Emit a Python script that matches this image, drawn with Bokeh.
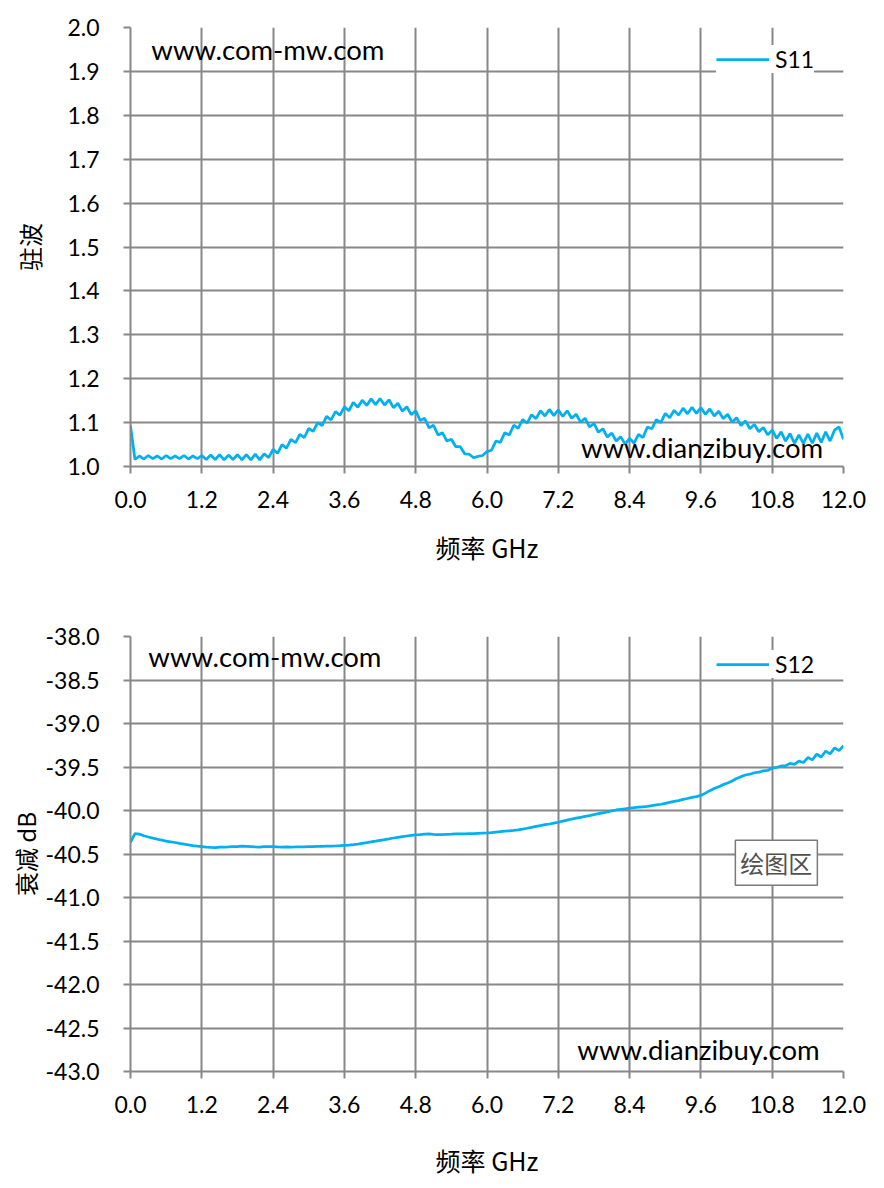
import numpy as np
from bokeh.plotting import figure
from bokeh.models import (Range1d, FixedTicker, NumeralTickFormatter, Legend,
                          LegendItem, Label)
from bokeh.layouts import column
from bokeh.embed import file_html
from bokeh.resources import INLINE

# ---------------- data ----------------
# frequency sweep, 0 .. 12 GHz, 161 points (0.075 GHz step)
freq_ghz = np.linspace(0.0, 12.0, 161)

s11_vswr = [
    1.093, 1.016, 1.024, 1.017, 1.025, 1.018, 1.024, 1.017, 1.025, 1.018,
    1.024, 1.018, 1.025, 1.017, 1.024, 1.018, 1.025, 1.016, 1.026, 1.016,
    1.027, 1.015, 1.026, 1.016, 1.027, 1.015, 1.027, 1.015, 1.028, 1.015,
    1.029, 1.020, 1.039, 1.030, 1.050, 1.042, 1.062, 1.054, 1.073, 1.066,
    1.087, 1.080, 1.100, 1.093, 1.114, 1.106, 1.125, 1.117, 1.136, 1.127,
    1.146, 1.135, 1.151, 1.139, 1.154, 1.141, 1.155, 1.140, 1.152, 1.134,
    1.144, 1.126, 1.136, 1.118, 1.127, 1.105, 1.110, 1.088, 1.094, 1.072,
    1.077, 1.058, 1.062, 1.045, 1.045, 1.029, 1.028, 1.020, 1.023, 1.025,
    1.034, 1.037, 1.058, 1.055, 1.077, 1.072, 1.094, 1.087, 1.107, 1.099,
    1.118, 1.109, 1.127, 1.115, 1.130, 1.116, 1.129, 1.114, 1.127, 1.110,
    1.119, 1.101, 1.110, 1.090, 1.098, 1.078, 1.086, 1.067, 1.076, 1.058,
    1.068, 1.051, 1.064, 1.053, 1.073, 1.066, 1.090, 1.086, 1.107, 1.100,
    1.121, 1.111, 1.128, 1.117, 1.133, 1.120, 1.135, 1.121, 1.134, 1.119,
    1.131, 1.115, 1.126, 1.109, 1.119, 1.101, 1.111, 1.093, 1.104, 1.086,
    1.096, 1.079, 1.089, 1.072, 1.083, 1.064, 1.079, 1.058, 1.075, 1.053,
    1.072, 1.052, 1.074, 1.053, 1.076, 1.055, 1.079, 1.058, 1.083, 1.090,
    1.062,
]

s12_db = [
    -40.365, -40.265, -40.272, -40.290, -40.305, -40.318, -40.330, -40.340, -40.352, -40.360,
    -40.368, -40.378, -40.386, -40.395, -40.403, -40.410, -40.415, -40.422, -40.425, -40.427,
    -40.422, -40.420, -40.419, -40.416, -40.414, -40.410, -40.412, -40.415, -40.418, -40.420,
    -40.416, -40.414, -40.415, -40.419, -40.421, -40.418, -40.420, -40.419, -40.417, -40.418,
    -40.415, -40.416, -40.413, -40.412, -40.410, -40.409, -40.407, -40.404, -40.400, -40.397,
    -40.392, -40.386, -40.378, -40.370, -40.360, -40.352, -40.343, -40.335, -40.326, -40.316,
    -40.308, -40.300, -40.293, -40.286, -40.280, -40.276, -40.271, -40.270, -40.274, -40.276,
    -40.276, -40.273, -40.272, -40.270, -40.269, -40.268, -40.266, -40.265, -40.262, -40.260,
    -40.258, -40.254, -40.248, -40.242, -40.238, -40.233, -40.228, -40.222, -40.214, -40.204,
    -40.193, -40.183, -40.173, -40.163, -40.155, -40.145, -40.135, -40.122, -40.110, -40.098,
    -40.088, -40.078, -40.068, -40.058, -40.047, -40.037, -40.027, -40.017, -40.005, -39.994,
    -39.987, -39.980, -39.973, -39.968, -39.962, -39.957, -39.953, -39.945, -39.936, -39.928,
    -39.918, -39.906, -39.895, -39.886, -39.873, -39.862, -39.850, -39.840, -39.827, -39.800,
    -39.772, -39.748, -39.727, -39.703, -39.684, -39.660, -39.632, -39.611, -39.592, -39.583,
    -39.566, -39.560, -39.545, -39.540, -39.512, -39.505, -39.488, -39.486, -39.458, -39.470,
    -39.432, -39.448, -39.392, -39.417, -39.353, -39.385, -39.317, -39.349, -39.280, -39.312,
    -39.255,
]

x_ticks = [0.0, 1.2, 2.4, 3.6, 4.8, 6.0, 7.2, 8.4, 9.6, 10.8, 12.0]
s11_ticks = [1.0, 1.1, 1.2, 1.3, 1.4, 1.5, 1.6, 1.7, 1.8, 1.9, 2.0]
s12_ticks = [-43.0, -42.5, -42.0, -41.5, -41.0, -40.5, -40.0, -39.5, -39.0, -38.5, -38.0]

x_title = "频率 GHz"
s11_title = "驻波"
s12_title = "衰减 dB"
s11_name = "S11"
s12_name = "S12"
site_a = "www.com-mw.com"
site_b = "www.dianzibuy.com"
tip_text = "绘图区"

# ---------------- style ----------------
GRID = "#878787"
LINE = "#00B0F0"
TICK_FONT = "Lato"
CJK_FONT = "Noto Sans CJK SC"


def make_fig(height, top, bottom, yr, yticks, ylabel, xl_standoff, yl_standoff):
    p = figure(width=876, height=height,
               x_range=Range1d(0, 12), y_range=Range1d(*yr),
               output_backend="svg", toolbar_location=None,
               min_border_left=130, min_border_right=33,
               min_border_top=top, min_border_bottom=bottom)
    p.outline_line_color = None
    p.background_fill_color = "white"
    p.border_fill_color = "white"
    xt = FixedTicker(ticks=x_ticks)
    yt = FixedTicker(ticks=yticks)
    p.xaxis.ticker = xt
    p.yaxis.ticker = yt
    p.xgrid.ticker = xt
    p.ygrid.ticker = yt
    p.grid.grid_line_color = GRID
    p.grid.grid_line_width = 2
    for ax in (p.xaxis[0], p.yaxis[0]):
        ax.axis_line_color = GRID
        ax.axis_line_width = 2
        ax.major_tick_line_color = GRID
        ax.major_tick_line_width = 2
        ax.major_tick_out = 7
        ax.major_tick_in = 0
        ax.minor_tick_line_color = None
        ax.major_label_text_font = TICK_FONT
        ax.major_label_text_font_size = "23px"
        ax.major_label_text_color = "black"
        ax.formatter = NumeralTickFormatter(format="0.0")
        ax.axis_label_text_font = CJK_FONT
        ax.axis_label_text_font_style = "normal"
        ax.axis_label_text_color = "black"
    p.xaxis.axis_label_text_font_size = "25px"
    p.yaxis.axis_label_text_font_size = "24px"
    p.xaxis.major_label_standoff = 17
    p.yaxis.major_label_standoff = 24
    p.xaxis.axis_label = x_title
    p.yaxis.axis_label = ylabel
    p.xaxis.axis_label_standoff = xl_standoff
    p.yaxis.axis_label_standoff = yl_standoff
    return p


def add_legend(p, r, name):
    leg = Legend(items=[LegendItem(label=name, renderers=[r])],
                 location=(586, 393), orientation="vertical")
    leg.border_line_color = None
    leg.background_fill_color = "white"
    leg.background_fill_alpha = 1.0
    leg.label_text_font = TICK_FONT
    leg.label_text_font_size = "23px"
    leg.label_text_color = "black"
    leg.glyph_width = 53
    leg.label_standoff = 6
    leg.padding = 12
    leg.margin = 0
    p.add_layout(leg)


def add_text(p, x, y, txt):
    p.add_layout(Label(x=x, y=y, text=txt, text_baseline="middle",
                       text_align="left", text_font=TICK_FONT,
                       text_font_size="27.5px", text_color="black"))


# ---------------- S11 ----------------
p1 = make_fig(594, 27, 128, (1.0, 2.0), s11_ticks, s11_title, 18, 17)
r1 = p1.line(freq_ghz, s11_vswr, line_color=LINE, line_width=2.75)
add_legend(p1, r1, s11_name)
add_text(p1, 0.35, 1.95, site_a)
add_text(p1, 7.58, 1.043, site_b)

# ---------------- S12 ----------------
p2 = make_fig(590, 42, 113, (-43.0, -38.0), s12_ticks, s12_title, 26, 0)
r2 = p2.line(freq_ghz, s12_db, line_color=LINE, line_width=2.75)
add_legend(p2, r2, s12_name)
add_text(p2, 0.3, -38.23, site_a)
add_text(p2, 7.52, -42.75, site_b)

shadow = Label(x=10.18, y=-40.6, text=tip_text, text_baseline="middle",
               text_align="left", text_font=CJK_FONT, text_font_size="24px",
               text_alpha=0.0, x_offset=4, y_offset=-4,
               background_fill_color="#b0b0b0", background_fill_alpha=0.6,
               padding=5)
tip = Label(x=10.18, y=-40.6, text=tip_text, text_baseline="middle",
            text_align="left", text_font=CJK_FONT, text_font_size="24px",
            text_color="#505050",
            background_fill_color="white", background_fill_alpha=1.0,
            border_line_color="#7a7a7a", border_line_width=1.5,
            padding=5)
p2.add_layout(shadow)
p2.add_layout(tip)

layout = column(p1, p2)
open("out.html", "w").write(file_html(layout, INLINE))
